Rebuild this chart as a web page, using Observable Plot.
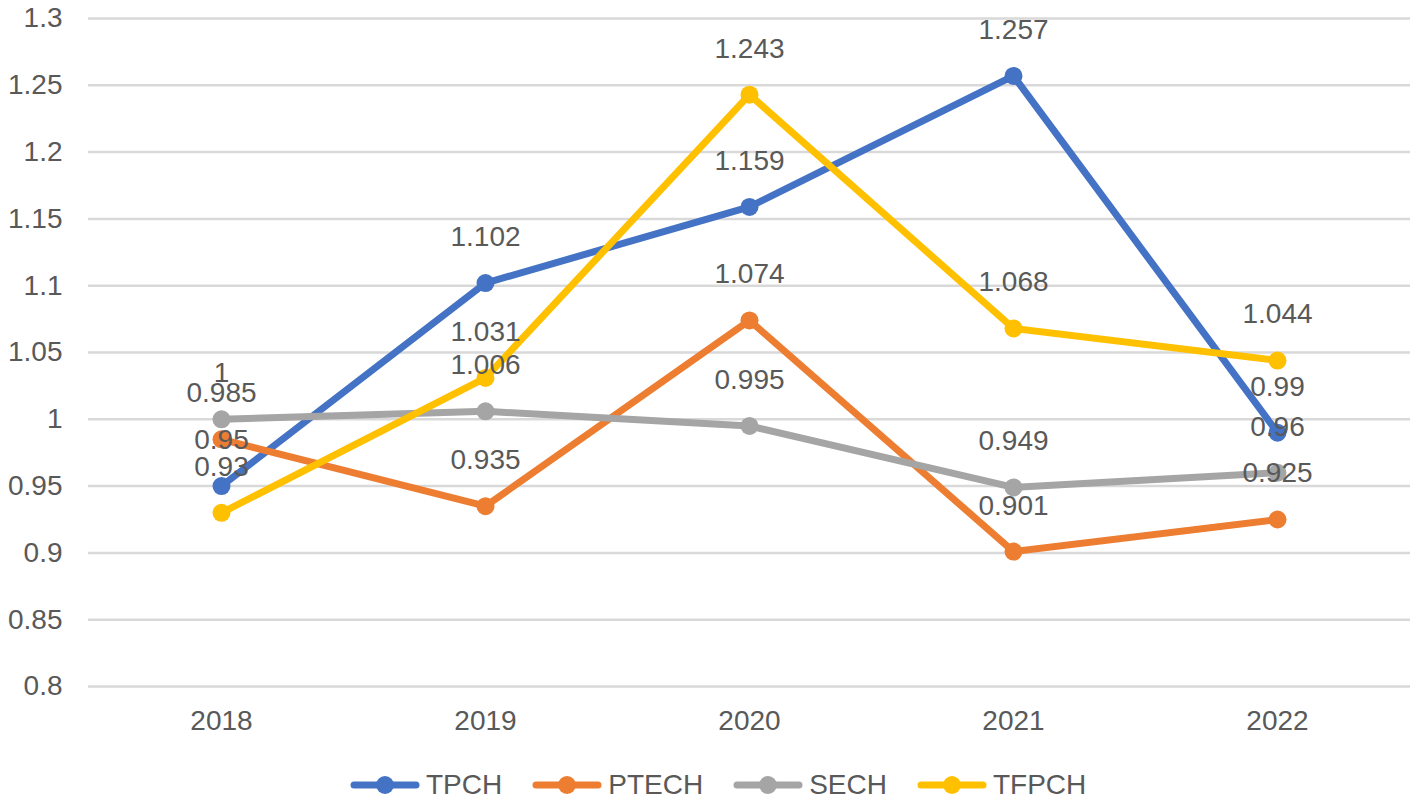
<!DOCTYPE html>
<html>
<head>
<meta charset="utf-8">
<script src="https://cdn.jsdelivr.net/npm/d3@7"></script>
<script src="https://cdn.jsdelivr.net/npm/@observablehq/plot@0.6"></script>
<style>
  html, body { margin: 0; padding: 0; background: #fff; }
  body { width: 1418px; height: 804px; position: relative; overflow: hidden; font-family: "Liberation Sans", Arial, sans-serif; }
  #legend { position: absolute; top: 765px; left: 350px; height: 40px; display: flex; align-items: center; gap: 30px; font-size: 28px; color: #595959; }
  .item { display: flex; align-items: center; gap: 6px; }
</style>
</head>
<body>
<div id="chart"></div>
<div id="legend"></div>
<script>
const years = ["2018", "2019", "2020", "2021", "2022"];
const seriesNames = ["TPCH", "PTECH", "SECH", "TFPCH"];
const tpch  = [0.95, 1.102, 1.159, 1.257, 0.99];
const ptech = [0.985, 0.935, 1.074, 0.901, 0.925];
const sech  = [1, 1.006, 0.995, 0.949, 0.96];
const tfpch = [0.93, 1.031, 1.243, 1.068, 1.044];
const colors = ["#4472C4", "#ED7D31", "#A5A5A5", "#FFC000"];
const yTicks = [0.8, 0.85, 0.9, 0.95, 1, 1.05, 1.1, 1.15, 1.2, 1.25, 1.3];

const seriesValues = [tpch, ptech, sech, tfpch];
const rows = [];
seriesNames.forEach((s, i) => {
  years.forEach((y, j) => rows.push({series: s, year: y, value: seriesValues[i][j]}));
});

const marks = [
  Plot.ruleY(yTicks, {stroke: "#D9D9D9", strokeWidth: 2.5})
];
seriesNames.forEach((s, i) => {
  const d = rows.filter(r => r.series === s);
  marks.push(Plot.line(d, {x: "year", y: "value", stroke: colors[i], strokeWidth: 7, strokeLinejoin: "round"}));
  marks.push(Plot.dot(d, {x: "year", y: "value", r: 9, fill: colors[i], stroke: "none"}));
});
marks.push(Plot.text(rows, {x: "year", y: "value", text: d => String(d.value), dy: -46, fontSize: 28, fill: "#595959"}));

const chart = Plot.plot({
  width: 1418,
  height: 760,
  marginTop: 18,
  marginBottom: 74,
  marginLeft: 88,
  marginRight: 8,
  style: {fontFamily: "'Liberation Sans', Arial, sans-serif", fontSize: "28px", color: "#595959", background: "#fff"},
  x: {type: "point", domain: years, padding: 0.5, label: null, tickSize: 0, tickPadding: 24},
  y: {domain: [0.8, 1.3], ticks: yTicks, label: null, tickSize: 0, tickPadding: 26, tickFormat: d => String(+d.toFixed(2))},
  marks
});
document.getElementById("chart").appendChild(chart);

const legend = document.getElementById("legend");
seriesNames.forEach((s, i) => {
  const item = document.createElement("div");
  item.className = "item";
  item.innerHTML = `<svg width="70" height="22"><line x1="4" y1="11" x2="66" y2="11" stroke="${colors[i]}" stroke-width="7" stroke-linecap="round"/><circle cx="35" cy="11" r="9" fill="${colors[i]}"/></svg><span>${s}</span>`;
  legend.appendChild(item);
});
</script>
</body>
</html>
